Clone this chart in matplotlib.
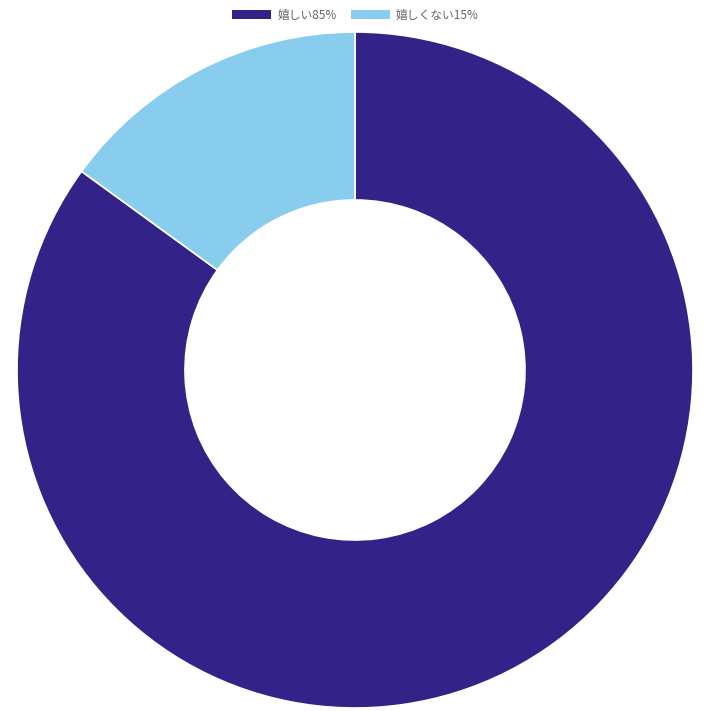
import matplotlib.pyplot as plt

plt.rcParams['font.family'] = ['Noto Sans CJK JP', 'DejaVu Sans']

labels = ['嬉しい85%', '嬉しくない15%']
values = [85, 15]
colors = ['#332288', '#88CCEE']

fig = plt.figure(figsize=(7.11, 7.11), dpi=100)
# donut centred at (355, 370) px, outer radius 338 px
ax = fig.add_axes([(355 - 338) / 711, (711 - 370 - 338) / 711, 676 / 711, 676 / 711])
wedges, _ = ax.pie(values, colors=colors, startangle=90, counterclock=False,
                   radius=1.0, wedgeprops=dict(width=0.497, edgecolor='white', linewidth=1.2))
ax.set_xlim(-1, 1)
ax.set_ylim(-1, 1)
ax.set_aspect('equal')
ax.axis('off')

leg = fig.legend(wedges, labels, loc='center', bbox_to_anchor=(0.5, 1 - 15 / 711), ncol=2,
                 frameon=False, fontsize=8.5, handlelength=3.3, handleheight=0.7,
                 handletextpad=0.5, columnspacing=1.2, labelcolor='#666666')
for h in leg.legend_handles:
    h.set_edgecolor('none')

fig.savefig('out.png', dpi=100)
